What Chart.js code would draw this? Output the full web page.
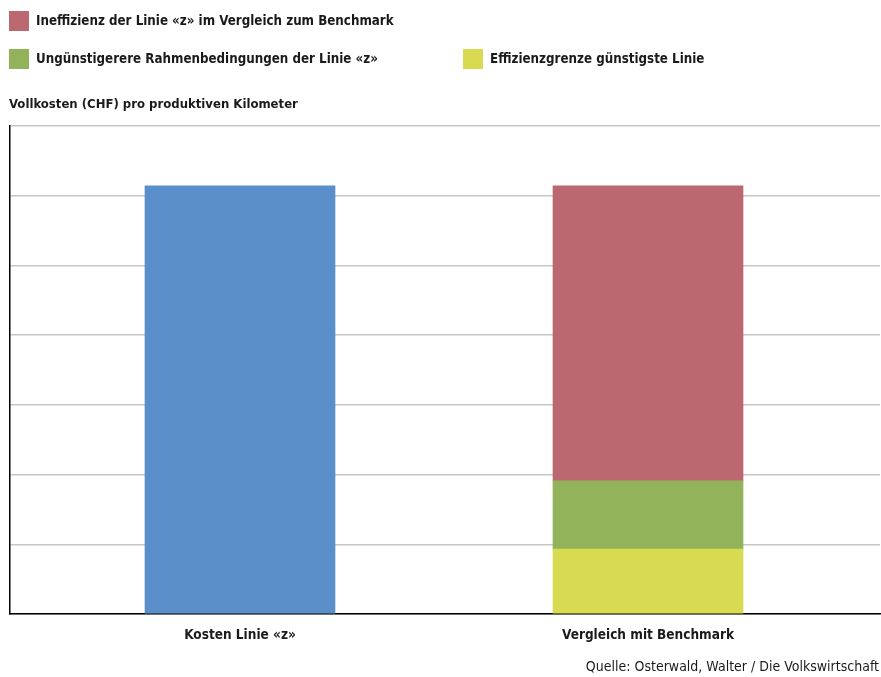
<!DOCTYPE html>
<html>
<head>
<meta charset="utf-8">
<script src="https://cdn.jsdelivr.net/npm/chart.js@4/dist/chart.umd.min.js"></script>
<style>
  html, body { margin: 0; padding: 0; background: #fff; }
  #wrap { position: relative; width: 881px; height: 677px; overflow: hidden; }
  #c { position: absolute; left: 0; top: 0; }
  .txt { position: absolute; font-family: "DejaVu Sans Condensed", sans-serif; color: #1a1a1a; white-space: nowrap; }
  .b { font-weight: bold; font-size: 13.25px; }
  .leg { position: absolute; height: 20px; line-height: 20px; }
  .sw { position: absolute; left: 0; top: 0; width: 20px; height: 20px; }
  .lt { position: absolute; left: 27px; top: 0; }
</style>
</head>
<body>
<div id="wrap">
  <canvas id="c" width="881" height="677"></canvas>
  <div class="txt b" id="ytitle" style="left:9px; top:96px; font-size:13px;"></div>
  <div class="txt" id="source" style="right:2px; top:658px; font-size:14px;"></div>
</div>
<script>
// ---- data ----
const categories = ["Kosten Linie «z»", "Vergleich mit Benchmark"];
const costLabel = "Kosten Linie «z»";
const costValues = [6.14, null];
const frontierLabel = "Effizienzgrenze günstigste Linie";
const frontierValues = [null, 0.93];
const conditionsLabel = "Ungünstigerere Rahmenbedingungen der Linie «z»";
const conditionsValues = [null, 0.98];
const inefficiencyLabel = "Ineffizienz der Linie «z» im Vergleich zum Benchmark";
const inefficiencyValues = [null, 4.23];
const yTitle = "Vollkosten (CHF) pro produktiven Kilometer";
const sourceText = "Quelle: Osterwald, Walter / Die Volkswirtschaft";
const yTicks = [0, 1, 2, 3, 4, 5, 6, 7];

// ---- styles ----
const colors = {
  cost: "#5b8fca",
  frontier: "#d8db52",
  conditions: "#93b35a",
  inefficiency: "#bc6870"
};
const FONT = '"DejaVu Sans Condensed", sans-serif';

document.getElementById("ytitle").textContent = yTitle;
document.getElementById("source").textContent = sourceText;

function toPoints(vals) {
  return vals.map((v, i) => ({ x: i, y: v }));
}

const datasets = [
  { label: costLabel, data: toPoints(costValues), backgroundColor: colors.cost },
  { label: frontierLabel, data: toPoints(frontierValues), backgroundColor: colors.frontier },
  { label: conditionsLabel, data: toPoints(conditionsValues), backgroundColor: colors.conditions },
  { label: inefficiencyLabel, data: toPoints(inefficiencyValues), backgroundColor: colors.inefficiency }
].map(d => Object.assign(d, { stack: "s", barThickness: 190, borderWidth: 0 }));

// HTML legend (layout positions separate from data)
const legendSlots = [
  { label: inefficiencyLabel, color: colors.inefficiency, left: 9, top: 11 },
  { label: conditionsLabel, color: colors.conditions, left: 9, top: 49 },
  { label: frontierLabel, color: colors.frontier, left: 463, top: 49 }
];
const wrap = document.getElementById("wrap");
legendSlots.forEach(s => {
  const el = document.createElement("div");
  el.className = "txt b leg";
  el.style.left = s.left + "px";
  el.style.top = s.top + "px";
  const sw = document.createElement("div");
  sw.className = "sw";
  sw.style.background = s.color;
  const t = document.createElement("div");
  t.className = "lt";
  t.textContent = s.label;
  el.appendChild(sw); el.appendChild(t);
  wrap.appendChild(el);
});

new Chart(document.getElementById("c"), {
  type: "bar",
  data: { datasets },
  options: {
    responsive: false,
    animation: false,
    devicePixelRatio: 1,
    layout: { padding: { left: 10, right: 1, top: 126, bottom: 23 } },
    plugins: { legend: { display: false }, tooltip: { enabled: false } },
    scales: {
      x: {
        type: "linear",
        offset: false,
        min: -0.5637,
        max: 1.5686,
        grid: { display: false, drawTicks: false, offset: false },
        border: { display: true, color: "#000", width: 1.5 },
        afterBuildTicks: s => { s.ticks = categories.map((c, i) => ({ value: i })); },
        afterFit: s => { s.height = 40; },
        ticks: {
          padding: 13,
          autoSkip: false,
          maxRotation: 0,
          color: "#1a1a1a",
          font: { family: FONT, size: 13.5, weight: "bold" },
          callback: v => categories[v]
        }
      },
      y: {
        stacked: true,
        min: yTicks[0],
        max: yTicks[yTicks.length - 1],
        afterBuildTicks: s => { s.ticks = yTicks.map(v => ({ value: v })); },
        afterFit: s => { s.width = 0; },
        ticks: { display: false },
        grid: { color: "#c6c6c6", lineWidth: 1.5, drawTicks: false },
        border: { display: true, color: "#000", width: 1.5 }
      }
    }
  }
});
</script>
</body>
</html>
